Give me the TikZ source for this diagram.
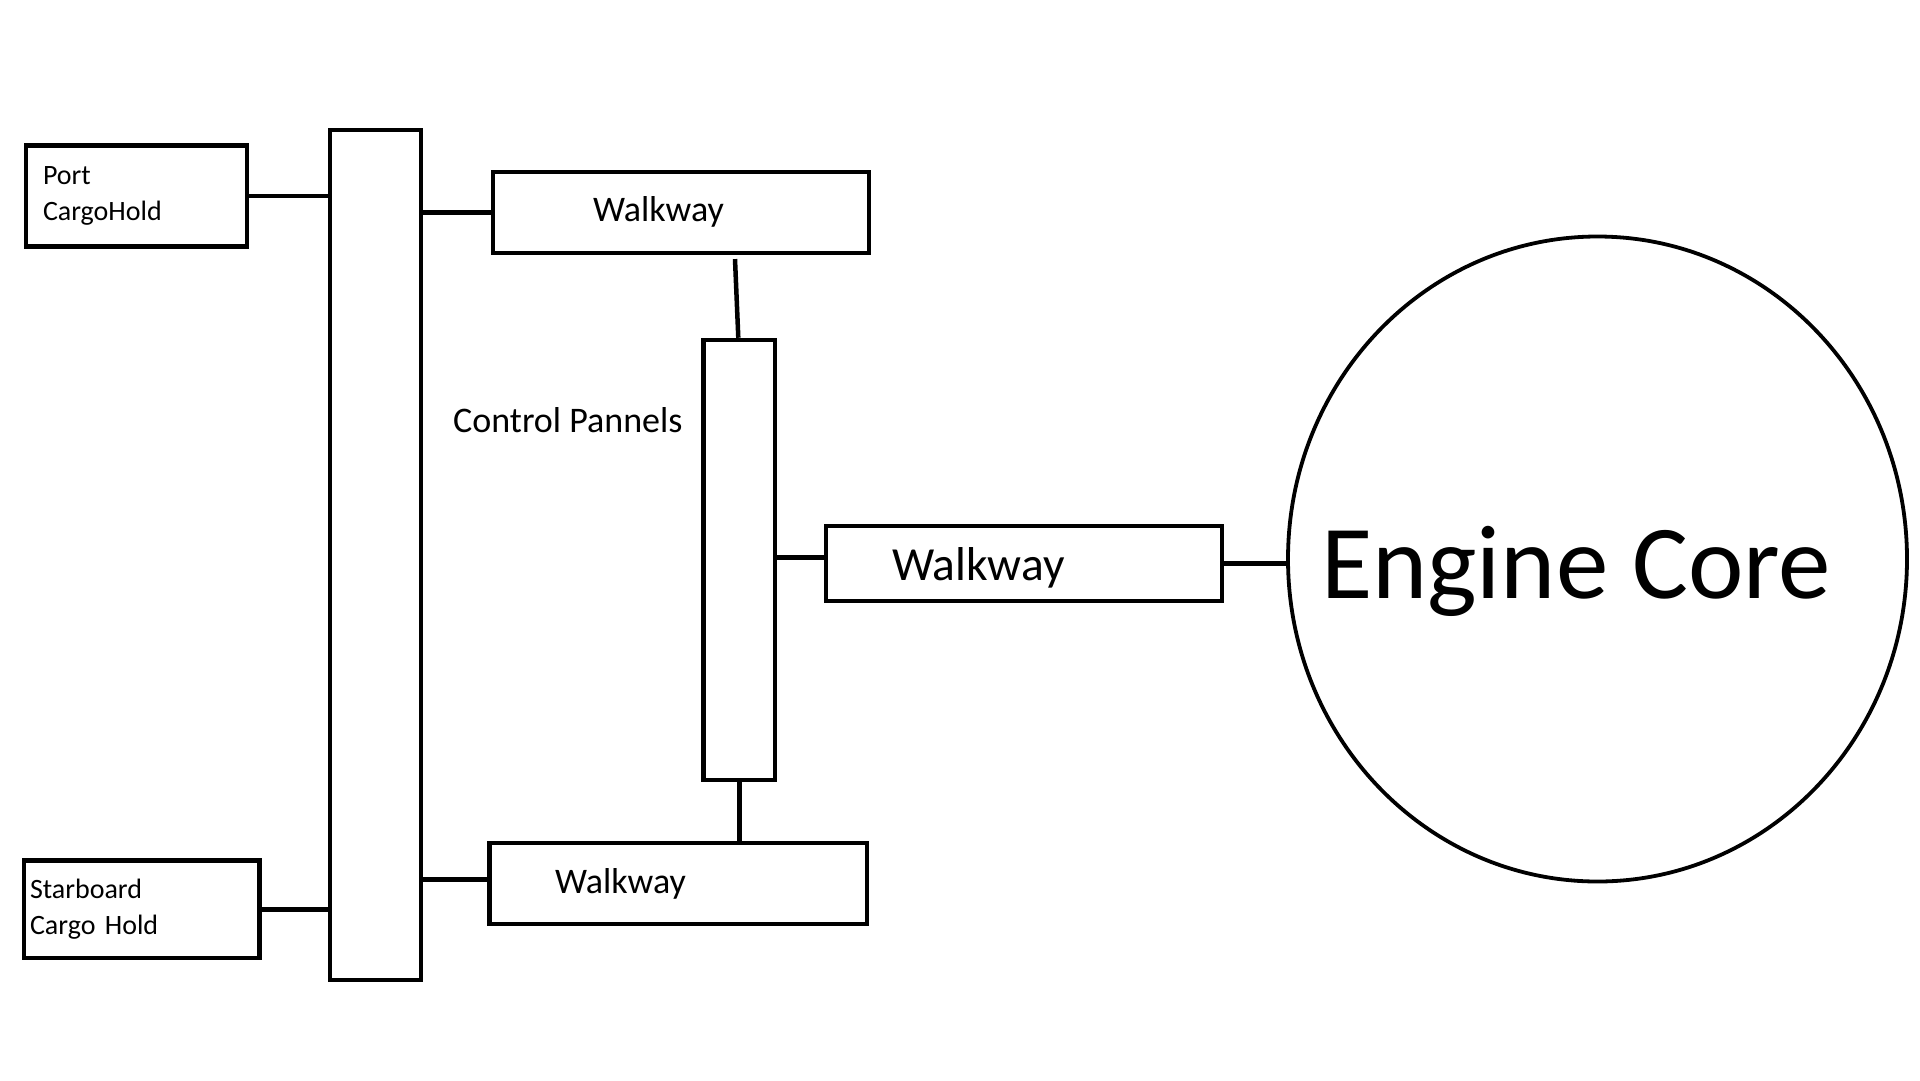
\documentclass[tikz,border=0pt]{standalone}
\usepackage{fontspec}
\setmainfont{Carlito}
\usetikzlibrary{shapes.geometric}

\begin{document}
\begin{tikzpicture}[
        x=1pt,y=-1pt,
        mybox/.style={
            draw=black,
            line width=4.5pt,
            inner sep=0pt},
        holdbox/.style={
            mybox,
            align=left,
            font=\fontsize{28}{36}\selectfont},
        walkbox/.style={
            mybox,
            align=left,
            minimum height=81pt,
            font=\fontsize{36}{43}\selectfont},
        corecircle/.style={
            draw=black,
            ellipse,
            line width=3.8pt,
            inner sep=0pt,
            minimum width=619pt,
            minimum height=645pt},
        mylink/.style={line width=4.5pt}
        ]
        \useasboundingbox (0,0) rectangle (1920,1080);

        \node[holdbox,inner xsep=17pt,text width=187pt,minimum height=101pt] (port) at (136.5,196) {Port\\CargoHold};
        \node[holdbox,inner xsep=6pt,text width=223.5pt,minimum height=97.5pt] (star) at (141.8,909.3) {Starboard\\Cargo Hold};
        \node[mybox,minimum width=91pt,minimum height=850pt] (bar) at (375.5,555) {};
        \node[walkbox,inner xsep=100pt,text width=176pt] (walk1) at (681,212.3) {Walkway};
        \node[walkbox,inner xsep=65.5pt,text width=246.5pt] (walk3) at (678.3,883.5) {Walkway};
        \node[mybox,minimum width=71.3pt,minimum height=440pt] (panel) at (739.3,560) {};
        \node[anchor=base west,inner sep=0pt,font=\fontsize{36}{43}\selectfont] (cplabel) at (453,432) {Control Pannels};
        \node[walkbox,inner xsep=66pt,text width=264pt,minimum height=75pt,text height=42pt,
              font=\fontsize{47.5}{57}\selectfont] (walk2) at (1024,563.3) {Walkway};
        \node[corecircle,label={[inner sep=0pt,xshift=-21.5pt,yshift=-12pt,
              font=\fontsize{105}{126}\selectfont]center:Engine Core}] (core) at (1597.5,559) {};

        % links into the long bar
        \foreach \i/\j in {port/bar,star/bar}
            \draw[mylink] (\i.east) -- (\i.east -| \j.west);
        \draw[mylink] (walk1.west -| bar.east) -- (walk1.west);
        \draw[mylink] ([yshift=4pt]walk3.west -| bar.east) -- ([yshift=4pt]walk3.west);

        % links round the control pannels
        \draw[mylink] ([xshift=54pt,yshift=-4pt]walk1.south) -- ([xshift=-1pt]panel.north);
        \draw[mylink] (panel.south) -- (panel.south |- walk3.north);
        \draw[mylink] ([yshift=6pt]walk2.west -| panel.east) -- ([yshift=6pt]walk2.west);
        \draw[mylink] (walk2.east) -- (walk2.east -| core.west);
\end{tikzpicture}
\end{document}
